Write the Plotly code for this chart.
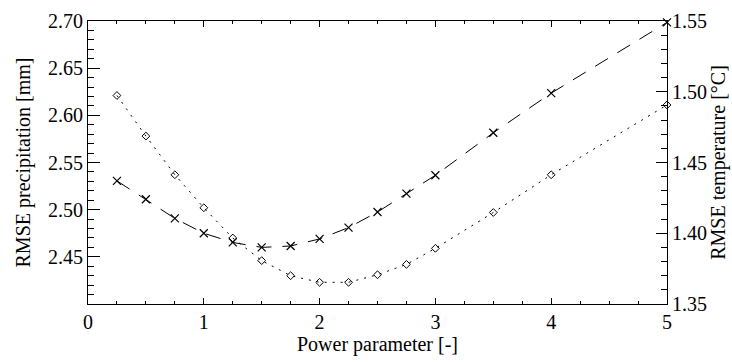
import plotly.graph_objects as go

power = [0.25, 0.5, 0.75, 1.0, 1.25, 1.5, 1.75, 2.0, 2.25, 2.5, 2.75, 3.0, 3.5, 4.0, 5.0]
rmse_precip = [2.621, 2.578, 2.537, 2.502, 2.470, 2.446, 2.430, 2.423, 2.423, 2.431, 2.442, 2.459, 2.497, 2.537, 2.611]
rmse_temp = [1.437, 1.424, 1.4105, 1.400, 1.3935, 1.390, 1.391, 1.396, 1.404, 1.415, 1.428, 1.441, 1.471, 1.499, 1.549]

x_ticks = [0, 1, 2, 3, 4, 5]
y1_ticks = [2.45, 2.50, 2.55, 2.60, 2.65, 2.70]
y2_ticks = [1.35, 1.40, 1.45, 1.50, 1.55]

FONT = "Liberation Serif"
FS = 20

fig = go.Figure()
fig.add_trace(go.Scatter(
    x=power, y=rmse_precip, mode="lines+markers", yaxis="y",
    line=dict(color="black", width=1, dash="2px,6px"),
    marker=dict(symbol="diamond-open", size=6, color="black", line=dict(width=1)),
    showlegend=False, cliponaxis=False))
fig.add_trace(go.Scatter(
    x=power, y=rmse_temp, mode="lines+markers", yaxis="y2",
    line=dict(color="black", width=1, dash="15px,11px"),
    marker=dict(symbol="x-thin-open", size=8, color="black", line=dict(width=1.2)),
    showlegend=False, cliponaxis=False))

fig.update_layout(
    width=732, height=362,
    margin=dict(l=88, r=65, t=10, b=58),
    paper_bgcolor="white", plot_bgcolor="white",
    font=dict(family=FONT, size=FS, color="black"),
    xaxis=dict(
        range=[0, 5], tickvals=x_ticks, ticktext=[str(v) for v in x_ticks],
        showline=True, linecolor="black", linewidth=1, mirror="ticks",
        ticks="inside", ticklen=6, tickcolor="black", tickwidth=1,
        minor=dict(dtick=0.25, ticks="inside", ticklen=3, tickcolor="black", tickwidth=1),
        showgrid=False, zeroline=False, ticklabeloverflow="allow",
        tickfont=dict(family=FONT, size=FS, color="black"),
        title=dict(text="Power parameter [-]", standoff=4, font=dict(family=FONT, size=FS, color="black")),
    ),
    yaxis=dict(
        range=[2.40, 2.70], tickvals=y1_ticks, ticktext=[f"{v:.2f}" for v in y1_ticks],
        showline=True, linecolor="black", linewidth=1,
        ticks="inside", ticklen=12, tickcolor="black", tickwidth=1,
        minor=dict(dtick=0.01, tick0=2.40, ticks="inside", ticklen=6, tickcolor="black", tickwidth=1),
        showgrid=False, zeroline=False, ticklabeloverflow="allow",
        tickfont=dict(family=FONT, size=FS, color="black"),
        title=dict(text="RMSE precipitation [mm]", standoff=12, font=dict(family=FONT, size=FS, color="black")),
    ),
    yaxis2=dict(
        range=[1.35, 1.55], tickvals=y2_ticks, ticktext=[f"{v:.2f}" for v in y2_ticks],
        overlaying="y", side="right",
        showline=True, linecolor="black", linewidth=1,
        ticks="inside", ticklen=11, tickcolor="black", tickwidth=1,
        minor=dict(dtick=0.01, tick0=1.35, ticks="inside", ticklen=6, tickcolor="black", tickwidth=1),
        showgrid=False, zeroline=False, ticklabeloverflow="allow",
        tickfont=dict(family=FONT, size=FS, color="black"),
        title=dict(text="RMSE temperature [°C]", standoff=0, font=dict(family=FONT, size=FS, color="black")),
    ),
)

fig.write_html("out.html")
